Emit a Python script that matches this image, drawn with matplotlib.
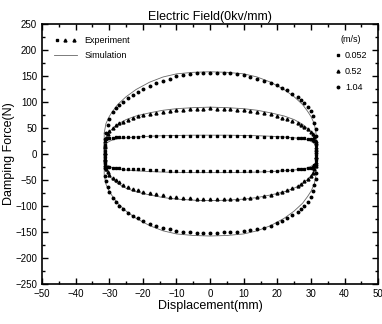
import matplotlib.pyplot as plt
from matplotlib.lines import Line2D
from matplotlib.legend_handler import HandlerTuple
from matplotlib.ticker import MultipleLocator

plt.rcParams['font.family'] = ['Liberation Sans', 'DejaVu Sans']

# experiment: shared displacement grid (mm) for the upper branch (left -> right)
x_up = [-31, -30.5, -30, -29, -28, -27, -26, -24.5, -23, -21.5, -20, -18, -16, -14, -12, -10,
        -8, -6, -4, -2, 0, 2, 4, 6, 8, 10, 12, 14, 16, 18, 20, 21.5, 23, 24.5, 26, 27, 28,
        29, 30, 30.5, 31]
# lower branch grid (right -> left)
x_dn = [31, 30.5, 30, 29, 28, 27, 26, 24.5, 23, 21.5, 20, 18, 16, 14, 12, 10, 8, 6, 4, 2, 0,
        -2, -4, -6, -8, -10, -12, -14, -16, -18, -20, -21.5, -23, -24.5, -26, -27, -28, -29,
        -30, -30.5, -31]

# 1.04 m/s
f_up_104 = [40, 55, 68, 80, 88, 95, 100, 108, 114, 120, 125, 131, 137, 141, 145, 149, 152, 154,
            155, 156, 156, 156, 155, 155, 153, 151, 148, 145, 141, 137, 132, 127, 122, 116, 110,
            104, 98, 90, 82, 72, 60]
f_dn_104 = [-60, -72, -82, -92, -100, -106, -112, -118, -124, -129, -133, -138, -142, -145, -147,
            -149, -150, -151, -151, -152, -152, -152, -152, -151, -150, -148, -145, -142, -138,
            -134, -129, -124, -119, -113, -106, -100, -93, -84, -74, -64, -52]
f_right_104 = [48, 34, 20, 6, -8, -22, -36, -48]
f_left_104 = [-42, -28, -14, 0, 14, 28]

# 0.52 m/s
f_up_052 = [30, 38, 44, 50, 55, 59, 62, 66, 69, 72, 74, 77, 79, 81, 83, 84, 85, 86, 87, 87, 88,
            87, 87, 86, 85, 84, 83, 81, 79, 76, 73, 70, 67, 63, 59, 56, 52, 48, 43, 38, 32]
f_dn_052 = [-30, -36, -42, -48, -53, -58, -62, -66, -70, -73, -76, -79, -81, -83, -84, -85, -86,
            -87, -87, -87, -87, -87, -86, -85, -84, -83, -82, -80, -78, -76, -73, -70, -67, -63,
            -59, -55, -51, -46, -40, -35, -30]
f_right_052 = [24, 14, 4, -6, -16, -24]
f_left_052 = [-22, -10, 2, 14, 24]

# 0.052 m/s
f_up_0052 = [28, 30, 31, 31, 32, 32, 32, 33, 33, 33, 34, 34, 34, 35, 35, 35, 35, 35, 35, 35, 35,
             35, 35, 34, 34, 34, 34, 33, 33, 33, 32, 32, 32, 31, 31, 30, 30, 29, 28, 27, 25]
f_dn_0052 = [-22, -25, -27, -28, -29, -30, -30, -31, -31, -31, -32, -32, -32, -32, -33, -33, -33,
             -33, -33, -33, -33, -33, -33, -32, -32, -32, -32, -31, -31, -31, -30, -30, -30, -29,
             -29, -28, -28, -27, -26, -26, -25]
f_right_0052 = [18, 8, -2, -12]
f_left_0052 = [-18, -6, 6, 18]

# simulation curves
xs_up = [-31.5, -31, -30, -29, -27.5, -25, -22, -18, -14, -10, -5, 0, 5, 10, 14, 18, 22, 25,
         27.5, 29, 30, 31, 31.5]
xs_dn = [31.5, 31, 30, 29, 27.5, 25, 22, 18, 14, 10, 5, 0, -5, -10, -14, -18, -22, -25, -27.5,
         -29, -30, -31, -31.5]
s_up_104 = [40, 58, 72, 82, 95, 110, 124, 138, 148, 154, 157, 158, 157, 154, 148, 138, 124, 110,
            95, 82, 72, 58, 40]
s_dn_104 = [-40, -58, -72, -82, -95, -110, -124, -138, -148, -154, -157, -158, -157, -154, -148,
            -138, -124, -110, -95, -82, -72, -58, -40]
s_up_052 = [20, 32, 42, 49, 57, 66, 73, 79, 84, 87, 89, 90, 89, 87, 84, 79, 73, 66, 57, 49, 42,
            32, 20]
s_dn_052 = [-20, -32, -42, -49, -57, -66, -73, -79, -84, -87, -89, -90, -89, -87, -84, -79, -73,
            -66, -57, -49, -42, -32, -20]
s_up_0052 = [15, 20, 24, 27, 29, 31, 32.5, 34, 35, 35.5, 36, 36, 36, 35.5, 35, 34, 32.5, 31, 29,
             27, 24, 20, 15]
s_dn_0052 = [-15, -20, -24, -27, -29, -31, -32.5, -34, -35, -35.5, -36, -36, -36, -35.5, -35, -34,
             -32.5, -31, -29, -27, -24, -20, -15]

fig = plt.figure(figsize=(3.82, 3.24), dpi=100)
ax = fig.add_axes([0.110, 0.124, 0.880, 0.802])

# simulation lines
for su, sd in [(s_up_104, s_dn_104), (s_up_052, s_dn_052), (s_up_0052, s_dn_0052)]:
    ax.plot(xs_up + xs_dn + xs_up[:1], su + sd + su[:1], color='#666666', lw=0.6, zorder=2)

# experiment points
series = [
    (f_up_104, f_dn_104, f_right_104, f_left_104, 'o', 1.8),
    (f_up_052, f_dn_052, f_right_052, f_left_052, '^', 2.1),
    (f_up_0052, f_dn_0052, f_right_0052, f_left_0052, 's', 1.7),
]
for fu, fd, fr, fl, mk, ms in series:
    xs = x_up + [31.4] * len(fr) + x_dn + [-31.4] * len(fl)
    ys = fu + fr + fd + fl
    ax.plot(xs, ys, ls='none', marker=mk, ms=ms, color='black', zorder=3)

ax.set_xlim(-50, 50)
ax.set_ylim(-250, 250)
ax.xaxis.set_major_locator(MultipleLocator(10))
ax.xaxis.set_minor_locator(MultipleLocator(5))
ax.yaxis.set_major_locator(MultipleLocator(50))
ax.yaxis.set_minor_locator(MultipleLocator(25))
ax.tick_params(which='both', direction='in', top=True, right=True, labelsize=7, width=1)
ax.tick_params(which='major', length=4)
ax.tick_params(which='minor', length=2)
for sp in ax.spines.values():
    sp.set_linewidth(1.2)

ax.set_title('Electric Field(0kv/mm)', fontsize=9, pad=3)
ax.set_xlabel('Displacement(mm)', fontsize=9, labelpad=1)
ax.set_ylabel('Damping Force(N)', fontsize=9, labelpad=0)

# legends
h_exp = (Line2D([], [], ls='none', marker='s', ms=1.7, color='k'),
         Line2D([], [], ls='none', marker='^', ms=2.1, color='k'),
         Line2D([], [], ls='none', marker='^', ms=2.1, color='k'))
h_sim = Line2D([], [], color='#666666', lw=0.6)
leg1 = ax.legend([h_exp, h_sim], ['Experiment', 'Simulation'], loc='upper left',
                 handler_map={tuple: HandlerTuple(ndivide=None, pad=0.2)}, numpoints=1,
                 frameon=False, fontsize=6.5, handlelength=2.6, borderaxespad=0.9,
                 labelspacing=0.75)
ax.add_artist(leg1)
h_v = [Line2D([], [], ls='none', marker='s', ms=1.7, color='k'),
       Line2D([], [], ls='none', marker='^', ms=2.1, color='k'),
       Line2D([], [], ls='none', marker='o', ms=1.8, color='k')]
leg2 = ax.legend(h_v, ['0.052', '0.52', '1.04'], loc='upper right', title='(m/s)',
                 title_fontsize=6.5, frameon=False, fontsize=6.5, numpoints=1, handlelength=0.8,
                 handletextpad=0.4, labelspacing=0.8, borderaxespad=0.8)

fig.savefig('out.png', dpi=100)
